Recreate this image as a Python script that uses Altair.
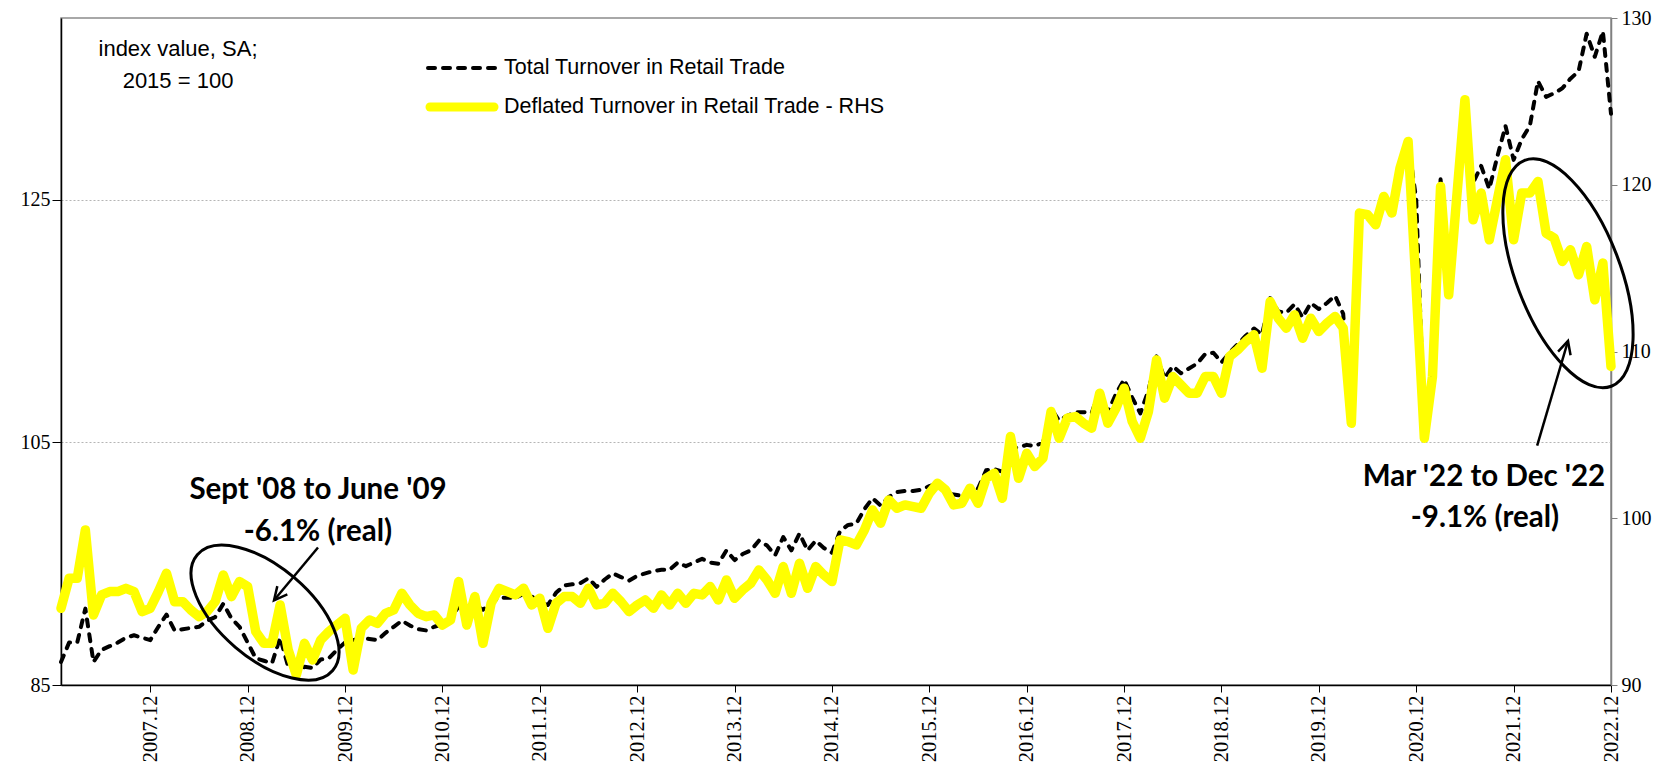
import altair as alt
import pandas as pd

# ---------------- data ----------------
total_turnover = [
    86.9, 88.5, 88.5, 91.3, 86.9, 87.9, 88.2, 88.5, 88.9, 89.1, 88.9, 88.7,
    89.8, 90.8, 89.5, 89.6, 89.7, 89.8, 90.3, 90.6, 91.7, 90.5, 89.8, 88.5,
    87.2, 87.0, 86.8, 88.9, 86.5, 86.0, 86.5, 86.4, 87.1, 87.2, 87.9, 88.5,
    88.7, 88.9, 88.8, 88.7, 89.3, 89.8, 90.3, 89.9, 89.6, 89.5, 89.8, 90.0,
    90.4, 91.5, 91.0, 91.6, 91.2, 91.8, 92.2, 92.2, 92.2, 92.5, 92.3, 91.8,
    91.6, 92.6, 93.2, 93.3, 93.4, 93.8, 93.1, 93.7, 94.2, 93.9, 93.6, 94.0,
    94.2, 94.4, 94.5, 94.5, 95.1, 94.8, 95.1, 95.4, 95.1, 95.0, 96.1, 95.3,
    95.8, 96.1, 96.9, 96.5, 95.7, 97.2, 96.1, 97.5, 96.1, 96.9, 96.3, 95.9,
    97.7, 98.2, 98.3, 99.5, 100.4, 99.8, 100.5, 100.9, 101.0, 101.0, 101.1, 101.4,
    101.6, 100.8, 100.7, 100.6, 101.3, 101.2, 102.7, 102.8, 102.6, 104.5, 104.6, 104.8,
    104.7, 105.0, 107.8, 106.8, 107.2, 107.5, 107.5, 107.4, 109.4, 107.5, 109.0, 110.2,
    108.7, 107.4, 109.3, 112.1, 110.3, 111.3, 110.7, 111.1, 111.5, 112.3, 112.4, 111.6,
    112.4, 113.1, 113.8, 114.4, 113.9, 116.9, 115.8, 115.7, 116.4, 115.3, 116.5, 116.0,
    116.5, 117.1, 115.6, 106.6, 123.9, 123.8, 123.0, 125.3, 123.9, 127.7, 129.9, 125.0,
    106.0, 110.5, 126.7, 118.0, 125.2, 133.0, 126.4, 127.8, 125.9, 128.6, 131.1, 128.3,
    130.0, 131.1, 134.8, 133.5, 133.8, 134.2, 135.0, 135.6, 138.7, 136.8, 138.9, 132.1,
]
deflated_turnover = [
    94.6, 96.4, 96.4, 99.3, 94.2, 95.4, 95.6, 95.6, 95.8, 95.6, 94.4, 94.6,
    95.6, 96.7, 95.0, 95.0, 94.5, 94.1, 94.4, 95.0, 96.6, 95.3, 96.2, 95.9,
    93.2, 92.5, 92.5, 94.8, 92.1, 90.6, 92.5, 91.5, 92.7, 93.2, 93.6, 94.0,
    90.9, 93.4, 93.9, 93.7, 94.3, 94.5, 95.5, 94.8, 94.3, 94.1, 94.2, 93.6,
    93.9, 96.2, 93.6, 95.3, 92.5, 94.9, 95.8, 95.6, 95.4, 95.8, 94.8, 95.2,
    93.4, 94.9, 95.3, 95.3, 94.9, 95.8, 94.8, 94.9, 95.5, 95.0, 94.4, 94.8,
    95.1, 94.6, 95.4, 94.8, 95.5, 94.9, 95.5, 95.4, 95.9, 95.1, 96.3, 95.2,
    95.7, 96.1, 96.9, 96.3, 95.5, 97.1, 95.5, 97.3, 95.8, 97.1, 96.6, 96.2,
    98.7, 98.6, 98.4, 99.3, 100.5, 99.7, 101.1, 100.6, 100.8, 100.7, 100.6, 101.5,
    102.1, 101.7, 100.8, 100.9, 101.8, 100.9, 102.4, 102.7, 101.2, 104.9, 102.4, 103.9,
    103.1, 103.6, 106.4, 104.8, 106.0, 106.1, 105.7, 105.4, 107.5, 105.7, 106.6, 107.8,
    105.8, 104.8, 106.4, 109.5, 107.2, 108.5, 108.0, 107.5, 107.5, 108.5, 108.5, 107.5,
    109.7, 110.1, 110.6, 111.0, 109.0, 113.0, 112.0, 111.4, 112.2, 110.8, 112.0, 111.2,
    111.7, 112.1, 111.4, 105.7, 118.3, 118.2, 117.6, 119.3, 118.3, 121.0, 122.6, 113.7,
    104.8, 108.5, 119.9, 113.4, 119.3, 125.1, 117.9, 119.5, 116.7, 119.1, 121.5, 116.7,
    119.5, 119.5, 120.2, 117.1, 116.8, 115.4, 116.1, 114.6, 116.3, 113.1, 115.3, 109.1,
]
month_index = list(range(len(total_turnover)))  # 0 = 2007.01 ... 191 = 2022.12

x_tick_values = [11, 23, 35, 47, 59, 71, 83, 95, 107, 119, 131, 143, 155, 167, 179, 191]
x_tick_labels = ["2007.12", "2008.12", "2009.12", "2010.12", "2011.12", "2012.12",
                 "2013.12", "2014.12", "2015.12", "2016.12", "2017.12", "2018.12",
                 "2019.12", "2020.12", "2021.12", "2022.12"]
left_ticks = [85, 105, 125]
right_ticks = [90, 100, 110, 120, 130]
left_domain = [85, 140]
right_domain = [90, 130]

series_names = ["Total Turnover in Retail Trade", "Deflated Turnover in Retail Trade - RHS"]
note_lines = ["index value, SA;", "2015 = 100"]
ann1_lines = ["Sept '08 to June '09", "-6.1% (real)"]
ann2_lines = ["Mar '22 to Dec '22", "-9.1% (real)"]

df = pd.DataFrame({"m": month_index, "total": total_turnover, "deflated": deflated_turnover})

# annotation shapes placed in data coordinates (month index, RHS value)
ellipses = pd.DataFrame({"m": [25.14, 185.7], "v": [94.34, 114.69],
                         "ang": [40.5, 69.0]})
arrows = pd.DataFrame({"m0": [31.67, 181.9], "v0": [98.25, 104.35],
                       "m1": [26.25, 185.7], "v1": [95.08, 110.63],
                       "ang": [219.7, 16.4]})

W, H = 1550, 667
SERIF = "Liberation Serif"
SANS = "Liberation Sans"
BOLD = "Lato"

xscale = alt.Scale(domain=[0, 191], nice=False, zero=False)
rscale = alt.Scale(domain=right_domain, nice=False, zero=False)
lscale = alt.Scale(domain=left_domain, nice=False, zero=False)

label_expr = "[" + ",".join("'%s'" % s for s in x_tick_labels) + "][round((datum.value - 11) / 12)]"

x_axis = alt.Axis(values=x_tick_values, labelExpr=label_expr, labelAngle=-90, title=None,
                  grid=False, tickSize=7, tickColor="black", domainColor="black",
                  domainWidth=1.5, labelFont=SERIF, labelFontSize=20.5, labelColor="black",
                  labelPadding=3, labelFlush=False, labelOverlap=False)
left_axis = alt.Axis(values=left_ticks, orient="left", title=None, grid=True,
                     gridDash=[2, 2], gridColor="#b5b5b5", gridWidth=1,
                     tickSize=9, tickColor="black", domainColor="black", domainWidth=1.5,
                     labelFont=SERIF, labelFontSize=20, labelColor="black",
                     labelPadding=2, labelFlush=False)
right_axis = alt.Axis(values=right_ticks, orient="right", title=None, grid=False,
                      tickSize=6, tickColor="#808080", domainColor="#808080", domainWidth=1.5,
                      labelFont=SERIF, labelFontSize=20, labelColor="black",
                      labelPadding=4, labelFlush=False)

X = lambda f: alt.X(f, scale=xscale, axis=x_axis)

base = alt.Chart(df)

total_line = base.mark_line(color="black", strokeWidth=4, strokeDash=[7, 8],
                            strokeCap="round", strokeJoin="round").encode(
    x=X("m:Q"),
    y=alt.Y("total:Q", scale=lscale, axis=left_axis),
)

defl_line = base.mark_line(color="#FFFF00", strokeWidth=9.5, strokeCap="round",
                           strokeJoin="round").encode(
    x=X("m:Q"),
    y=alt.Y("deflated:Q", scale=rscale, axis=right_axis),
)

def ellipse_path(r):
    k = 0.5523
    return ("M 1 0 C 1 {a} {k} {r} 0 {r} C {nk} {r} -1 {a} -1 0 "
            "C -1 {na} {nk} {nr} 0 {nr} C {k} {nr} 1 {na} 1 0 Z").format(
        a=k * r, k=k, r=r, nk=-k, na=-k * r, nr=-r)

ell1 = alt.Chart(ellipses.iloc[[0]]).mark_point(
    shape=ellipse_path(0.512), size=178 ** 2, filled=False, color="black",
    strokeWidth=3, opacity=1).encode(
    x=X("m:Q"),
    y=alt.Y("v:Q", scale=rscale, axis=None),
    angle=alt.Angle("ang:Q", scale=None),
)
ell2 = alt.Chart(ellipses.iloc[[1]]).mark_point(
    shape=ellipse_path(0.43), size=242 ** 2, filled=False, color="black",
    strokeWidth=3, opacity=1).encode(
    x=X("m:Q"),
    y=alt.Y("v:Q", scale=rscale, axis=None),
    angle=alt.Angle("ang:Q", scale=None),
)

arrow_lines = alt.Chart(arrows).mark_rule(color="black", strokeWidth=2.5).encode(
    x=X("m0:Q"), x2="m1:Q",
    y=alt.Y("v0:Q", scale=rscale, axis=None), y2="v1:Q",
)
arrow_heads = alt.Chart(arrows).mark_point(
    shape="M -0.5 1 L 0 0 L 0.5 1", size=26 ** 2, filled=False, color="black",
    strokeWidth=2.5, opacity=1).encode(
    x=X("m1:Q"),
    y=alt.Y("v1:Q", scale=rscale, axis=None),
    angle=alt.Angle("ang:Q", scale=None),
)

dummy = alt.Data(values=[{}])

def txt(s, x, y, font, size, weight="normal", align="center"):
    return alt.Chart(dummy).mark_text(text=s, font=font, fontSize=size, fontWeight=weight,
                                      align=align, baseline="middle", color="black").encode(
        x=alt.value(x), y=alt.value(y))

leg_black = alt.Chart(dummy).mark_rule(color="black", strokeWidth=4, strokeDash=[7, 8],
                                       strokeCap="round").encode(
    x=alt.value(367), x2=alt.value(436), y=alt.value(50))
leg_yellow = alt.Chart(dummy).mark_rule(color="#FFFF00", strokeWidth=9,
                                        strokeCap="round").encode(
    x=alt.value(369), x2=alt.value(433), y=alt.value(89))

layers = [
    total_line, defl_line, ell1, ell2, arrow_lines, arrow_heads, leg_black, leg_yellow,
    txt(series_names[0], 443, 50, SANS, 21.5, align="left"),
    txt(series_names[1], 443, 89, SANS, 21.5, align="left"),
    txt(note_lines[0], 117, 31, SANS, 22),
    txt(note_lines[1], 117, 63, SANS, 22),
    txt(ann1_lines[0], 257, 472, BOLD, 29.5, "bold"),
    txt(ann1_lines[1], 257, 514, BOLD, 29.5, "bold"),
    txt(ann2_lines[0], 1423, 459, BOLD, 29.5, "bold"),
    txt(ann2_lines[1], 1424, 500, BOLD, 29.5, "bold"),
]

chart = alt.layer(*layers).resolve_scale(y="independent").properties(
    width=W, height=H,
    autosize=alt.AutoSizeParams(type="none"),
    padding={"left": 53, "top": 10, "right": 50, "bottom": 78},
).configure_view(stroke="#8c8c8c", strokeWidth=1.5)

chart.save("out.html", embed_options={"renderer": "svg", "actions": False})
